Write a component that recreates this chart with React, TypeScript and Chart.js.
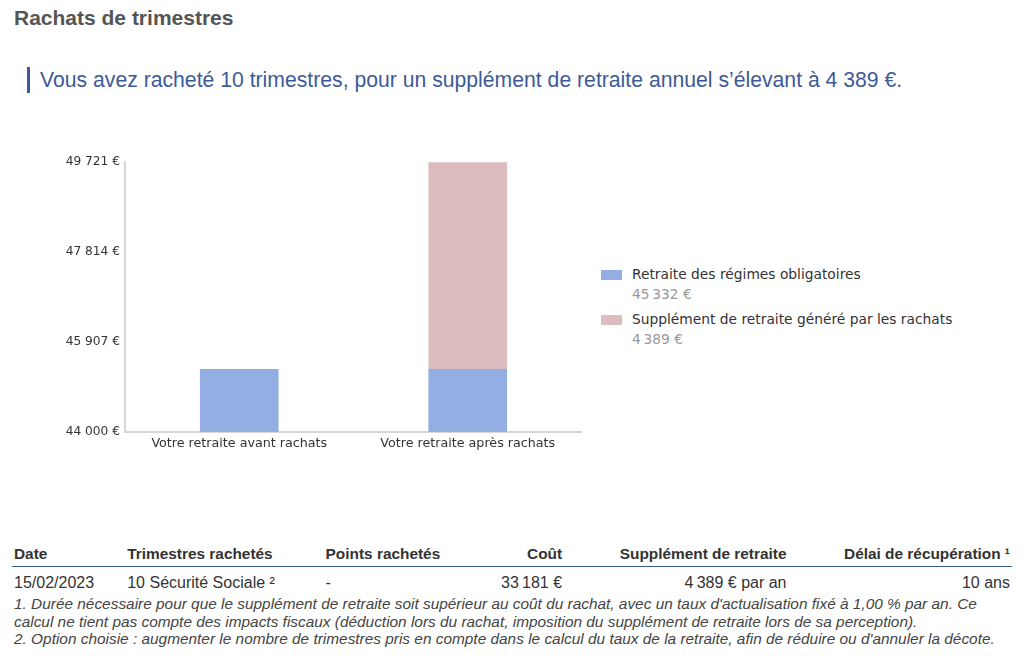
import React, { useEffect, useRef } from "react";
import { Chart, registerables } from "chart.js";

Chart.register(...registerables);

const categories = ["Votre retraite avant rachats", "Votre retraite après rachats"];
const seriesNames = ["Retraite des régimes obligatoires", "Supplément de retraite généré par les rachats"];
const baseValues = [45332, 45332];
const supplementValues = [0, 4389];
const legendValues = ["45\u202F332 €", "4\u202F389 €"];
const seriesColors = ["#92aee3", "#dbbcbf"];
const yMin = 44000;
const yMax = 49721;
const yStep = 1907;

const tableHeaders = ["Date", "Trimestres rachetés", "Points rachetés", "Coût", "Supplément de retraite", "Délai de récupération ¹"];
const tableRow = ["15/02/2023", "10 Sécurité Sociale ²", "-", "33\u202F181 €", "4\u202F389 € par an", "10 ans"];
const footnotes = [
  "1. Durée nécessaire pour que le supplément de retraite soit supérieur au coût du rachat, avec un taux d'actualisation fixé à 1,00 % par an. Ce calcul ne tient pas compte des impacts fiscaux (déduction lors du rachat, imposition du supplément de retraite lors de sa perception).",
  "2. Option choisie : augmenter le nombre de trimestres pris en compte dans le calcul du taux de la retraite, afin de réduire ou d'annuler la décote.",
];

const fmt = (v: number) => {
  const s = Math.round(v).toString();
  return s.replace(/\B(?=(\d{3})+(?!\d))/g, " ") + " €";
};

const chartFont = "'DejaVu Sans', Verdana, sans-serif";
const htmlFont = "'Liberation Sans', Arial, sans-serif";

function BarChart() {
  const ref = useRef<HTMLCanvasElement | null>(null);
  useEffect(() => {
    if (!ref.current) return;
    const chart = new Chart(ref.current, {
      type: "bar",
      data: {
        labels: categories,
        datasets: [
          { label: seriesNames[0], data: baseValues, backgroundColor: seriesColors[0], barThickness: 78, borderWidth: 0 },
          { label: seriesNames[1], data: supplementValues, backgroundColor: seriesColors[1], barThickness: 78, borderWidth: 0 },
        ],
      },
      options: {
        animation: false,
        responsive: true,
        maintainAspectRatio: false,
        layout: { padding: { top: 12, right: 0, bottom: 0, left: 0 } },
        plugins: { legend: { display: false }, tooltip: { enabled: false } },
        scales: {
          x: {
            stacked: true,
            grid: { display: false, drawTicks: false },
            border: { display: true, color: "#d6d6d6", width: 2 },
            ticks: { color: "#333", font: { family: chartFont, size: 12.7 }, padding: 4 },
            afterFit: (s: any) => { s.height = 28; },
          },
          y: {
            stacked: true,
            min: yMin,
            max: yMax,
            grid: { display: false, drawTicks: false },
            border: { display: true, color: "#d6d6d6", width: 2 },
            ticks: {
              stepSize: yStep,
              color: "#333",
              font: { family: chartFont, size: 12.2 },
              padding: 5,
              callback: (v: any) => fmt(Number(v)),
            },
            afterFit: (s: any) => { s.width = 85; },
          },
        },
      },
    });
    return () => chart.destroy();
  }, []);
  return <canvas ref={ref} />;
}

export default function App() {
  const cellBase: React.CSSProperties = { padding: "0 2px", whiteSpace: "nowrap" };
  const aligns: ("left" | "right")[] = ["left", "left", "left", "right", "right", "right"];
  const widths = [113, 198, 127, 113, 224, 223];
  return (
    <div style={{ position: "absolute", left: 0, top: 0, width: 1024, height: 670, background: "#fff", fontFamily: htmlFont, color: "#333" }}>
      <div style={{ position: "absolute", left: 14, top: 6, fontSize: 21, lineHeight: "24px", fontWeight: "bold", color: "#555" }}>
        Rachats de trimestres
      </div>
      <div style={{ position: "absolute", left: 27, top: 67, height: 26, borderLeft: "3px solid #3d5a98", paddingLeft: 10, fontSize: 21.2, lineHeight: "26px", color: "#3d5a98", whiteSpace: "nowrap" }}>
        Vous avez racheté 10 trimestres, pour un supplément de retraite annuel s’élevant à 4 389 €.
      </div>
      <div style={{ position: "absolute", left: 40, top: 150, width: 542, height: 310 }}>
        <BarChart />
      </div>
      <div style={{ position: "absolute", left: 601, top: 265, fontFamily: chartFont, fontSize: 13.8 }}>
        {seriesNames.map((n, i) => (
          <div key={n} style={{ position: "relative", height: 45 }}>
            <div style={{ position: "absolute", left: 0, top: 5, width: 21, height: 10, background: seriesColors[i] }} />
            <div style={{ position: "absolute", left: 31, top: 0, lineHeight: "19px", color: "#333", whiteSpace: "nowrap" }}>{n}</div>
            <div style={{ position: "absolute", left: 31, top: 20, lineHeight: "19px", color: "#999", whiteSpace: "nowrap" }}>{legendValues[i]}</div>
          </div>
        ))}
      </div>
      <table style={{ position: "absolute", left: 12, top: 542, borderCollapse: "collapse", tableLayout: "fixed", width: 1000, fontSize: 16 }}>
        <colgroup>
          {widths.map((w, i) => <col key={i} style={{ width: w }} />)}
        </colgroup>
        <thead>
          <tr style={{ height: 24 }}>
            {tableHeaders.map((h, i) => (
              <th key={h} style={{ ...cellBase, fontSize: 15.4, textAlign: aligns[i], fontWeight: "bold", color: "#333", borderBottom: "1px solid #3d5a98", verticalAlign: "middle" }}>{h}</th>
            ))}
          </tr>
        </thead>
        <tbody>
          <tr style={{ height: 33 }}>
            {tableRow.map((c, i) => (
              <td key={i} style={{ ...cellBase, textAlign: aligns[i], color: "#333", verticalAlign: "middle" }}>{c}</td>
            ))}
          </tr>
        </tbody>
      </table>
      <div style={{ position: "absolute", left: 14, top: 595, width: 1005, fontSize: 15.4, lineHeight: "17.5px", fontStyle: "italic", color: "#444" }}>
        {footnotes.map((f, i) => <div key={i}>{f}</div>)}
      </div>
    </div>
  );
}
